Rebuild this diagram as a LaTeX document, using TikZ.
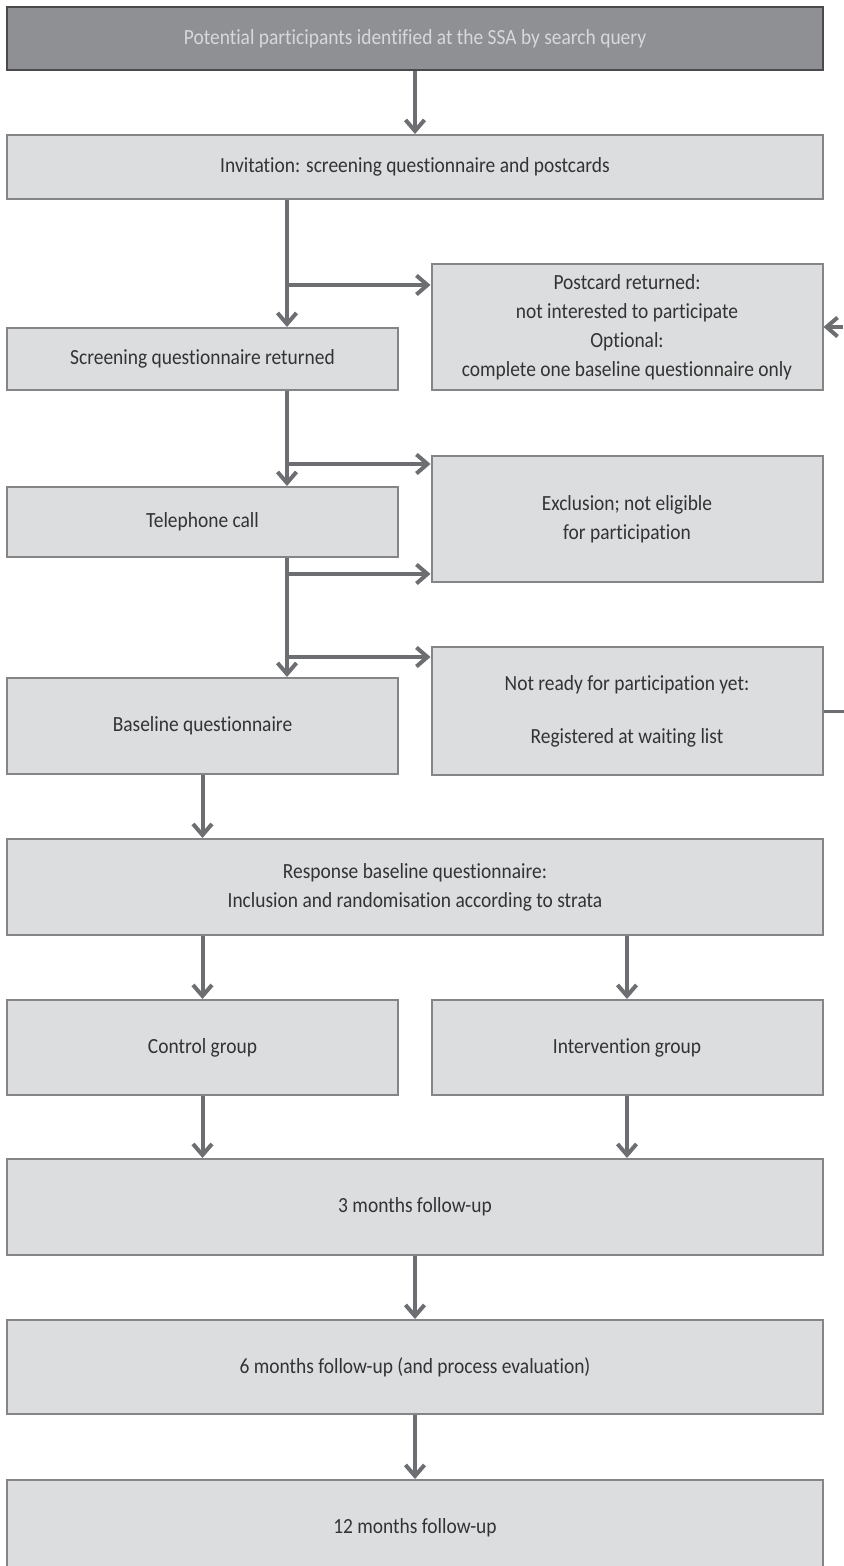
\documentclass[tikz,border=0pt]{standalone}
\usepackage{fontspec}
\setmainfont{Carlito}[FakeStretch=0.9, Ligatures=NoCommon]
\usepackage{tikz}
\usetikzlibrary{positioning,arrows.meta}
\definecolor{boxfill}{HTML}{DCDDDF}
\definecolor{boxline}{HTML}{858588}
\definecolor{headfill}{HTML}{8F9094}
\definecolor{headline}{HTML}{4A4A4C}
\definecolor{headtext}{HTML}{D8D8DA}
\definecolor{flowcol}{HTML}{6D6E71}
\definecolor{textcol}{HTML}{333333}
\tikzset{
  box/.style={rectangle, draw=boxline, fill=boxfill, line width=1pt, inner sep=2pt,
              align=center, text=textcol, font=\fontsize{10.8}{14.5}\selectfont},
  headbox/.style={box, draw=headline, fill=headfill, text=headtext},
  wide/.style={minimum width=408pt},
  half/.style={minimum width=195.5pt},
  flow/.style={-{Straight Barb[length=5.5pt,width=9.5pt]}, line width=2pt, draw=flowcol},
  plain/.style={line width=1.5pt, draw=flowcol},
}

\begin{document}
\begin{tikzpicture}[x=0.5pt, y=-0.5pt]
\useasboundingbox (0,0) rectangle (844,1566);

%Nodes
\node[headbox, wide, minimum height=31.5pt] (source) at (415,38.5) {Potential participants identified at the SSA by search query};
\node[box, wide, minimum height=32pt] (invite) at (415,167) {Invitation: screening questionnaire and postcards};
\node[box, half, minimum height=63pt] (postcard) at (627,327) {Postcard returned:\\ not interested to participate\\ Optional:\\ complete one baseline questionnaire only};
\node[box, half, minimum height=31pt] (screen) at (202.5,359) {Screening questionnaire returned};
\node[box, half, minimum height=63pt] (exclude) at (627,519) {Exclusion; not eligible\\ for participation};
\node[box, half, minimum height=35pt] (phone) at (202.5,522) {Telephone call};
\node[box, half, minimum height=64pt] (waiting) at (627,711) {Not ready for participation yet:\\[12pt] Registered at waiting list};
\node[box, half, minimum height=48pt] (baseline) at (202.5,726) {Baseline questionnaire};
\node[box, wide, minimum height=48pt] (response) at (415,887) {Response baseline questionnaire:\\ Inclusion and randomisation according to strata};
\node[box, half, minimum height=47.5pt] (control) at (202.5,1047.5) {Control group};
\node[box, half, minimum height=47.5pt] (interv) at (627,1047.5) {Intervention group};
\node[box, wide, minimum height=48pt] (month3) at (415,1207) {3 months follow-up};
\node[box, wide, minimum height=47pt] (month6) at (415,1367) {6 months follow-up (and process evaluation)};
\node[box, wide, minimum height=47.5pt] (month12) at (415,1527.5) {12 months follow-up};

%Junctions
\coordinate (spine) at (287,0);
\coordinate (j1) at (287,285);
\coordinate (j2) at (287,464);
\coordinate (j3) at (287,574);
\coordinate (j4) at (287,657);
\coordinate (back) at (843,327);
\coordinate (out) at (844,711);

%Lines
\draw[flow] (source) -- (invite);
\draw[flow] (invite.south -| spine) -- (screen.north -| spine);
\draw[flow] (j1) -- (j1 -| postcard.west);
\draw[flow] (screen.south -| spine) -- (phone.north -| spine);
\draw[flow] (j2) -- (j2 -| exclude.west);
\draw[flow] (phone.south -| spine) -- (baseline.north -| spine);
\draw[flow] (j3) -- (j3 -| exclude.west);
\draw[flow] (j4) -- (j4 -| waiting.west);
\draw[flow] (back) -- (postcard.east);
\draw[plain] (waiting.east) -- (out);
\draw[flow] (baseline.south) -- (baseline.south |- response.north);
\draw[flow] (control.north |- response.south) -- (control.north);
\draw[flow] (interv.north |- response.south) -- (interv.north);
\draw[flow] (control.south) -- (control.south |- month3.north);
\draw[flow] (interv.south) -- (interv.south |- month3.north);
\draw[flow] (month3) -- (month6);
\draw[flow] (month6) -- (month12);
\end{tikzpicture}
\end{document}
